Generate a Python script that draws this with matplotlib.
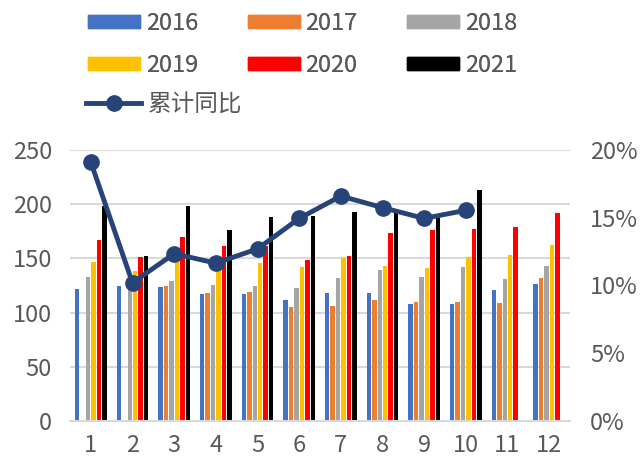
import matplotlib
matplotlib.use("Agg")
import matplotlib.pyplot as plt
import numpy as np
from matplotlib.lines import Line2D
from matplotlib.patches import Patch

plt.rcParams['font.family'] = ['Noto Sans CJK SC', 'DejaVu Sans']

months = ["1", "2", "3", "4", "5", "6", "7", "8", "9", "10", "11", "12"]
years = ["2016", "2017", "2018", "2019", "2020", "2021"]
nan = np.nan
v2016 = [122, 125, 124, 117, 117, 112, 118, 118, 108, 108, 121, 126]
v2017 = [nan, nan, 125, 118, 119, 105.5, 106.5, 112, 109.5, 110, 109, 132]
v2018 = [132.5, 136, 129.5, 125.5, 125, 123, 132, 139, 133, 142, 131, 143]
v2019 = [147, 138.5, 152, 142, 145.5, 142, 150, 143, 141.5, 151, 153, 162]
v2020 = [167, 151.5, 170, 161, 161, 148.5, 152, 173, 176.5, 177, 179, 192]
v2021 = [198, 152.5, 198, 176, 188, 189, 193, 192, 188, 213, nan, nan]
yoy = [19.1, 10.2, 12.35, 11.65, 12.7, 14.95, 16.6, 15.75, 14.95, 15.55]
line_label = "累计同比"

series = [v2016, v2017, v2018, v2019, v2020, v2021]
colors = ["#4472C4", "#ED7D31", "#A5A5A5", "#FFC000", "#FF0000", "#000000"]
line_color = "#264478"
text_color = "#595959"
FS = 17

fig = plt.figure(figsize=(6.43, 4.58), dpi=100)
ax = fig.add_axes([70/643, 37/458, 500/643, 271/458])
ax2 = ax.twinx()

x = np.arange(1, 13)
slot = 0.131
bw = 0.108
for i, (vals, c) in enumerate(zip(series, colors)):
    ax.bar(x + (i - 2.5) * slot, vals, width=bw, color=c, zorder=2)

ax.set_xlim(0.5, 12.5)
ax.set_ylim(0, 250)
ax.set_yticks(np.arange(0, 251, 50))
ax.grid(axis='y', color='#D9D9D9', linewidth=1.5, zorder=0)
ax.set_axisbelow(True)
ax.set_xticks(x)
ax.set_xticklabels(months)
for s in ['top', 'left', 'right']:
    ax.spines[s].set_visible(False)
ax.spines['bottom'].set_color('#D9D9D9')
ax.spines['bottom'].set_linewidth(1.5)
ax.tick_params(axis='y', length=0, labelsize=FS, colors=text_color, pad=13)
ax.tick_params(axis='x', length=0, labelsize=FS, colors=text_color, pad=9)

ax2.plot(np.arange(1, len(yoy) + 1), yoy, color=line_color, linewidth=3.5,
         marker='o', markersize=11, zorder=5)
ax2.set_ylim(0, 20)
ax2.set_yticks(np.arange(0, 21, 5))
ax2.set_yticklabels([f"{v}%" for v in range(0, 21, 5)])
for s in ['top', 'left', 'right', 'bottom']:
    ax2.spines[s].set_visible(False)
ax2.tick_params(axis='y', length=0, labelsize=FS, colors=text_color, pad=14.5)

handles = [Patch(color=c) for c in colors]
order = [0, 3, 1, 4, 2, 5]
leg1 = fig.legend([handles[i] for i in order], [years[i] for i in order], ncol=3,
                  loc='upper left', bbox_to_anchor=(88/643, 1 - 12/458),
                  frameon=False, fontsize=FS, borderpad=0, borderaxespad=0,
                  handlelength=2.2, handleheight=0.5, handletextpad=0.25,
                  columnspacing=2.1, labelspacing=0.81, labelcolor=text_color)
fig.add_artist(leg1)
line_h = Line2D([0], [0], color=line_color, linewidth=3.5, marker='o', markersize=11)
leg2 = fig.legend([line_h], [line_label], loc='upper left',
                  bbox_to_anchor=(86/643, 1 - 93/458), frameon=False, fontsize=FS,
                  borderpad=0, borderaxespad=0, handlelength=2.35,
                  handletextpad=0.25, labelcolor=text_color)

fig.savefig("out.png", dpi=100)
